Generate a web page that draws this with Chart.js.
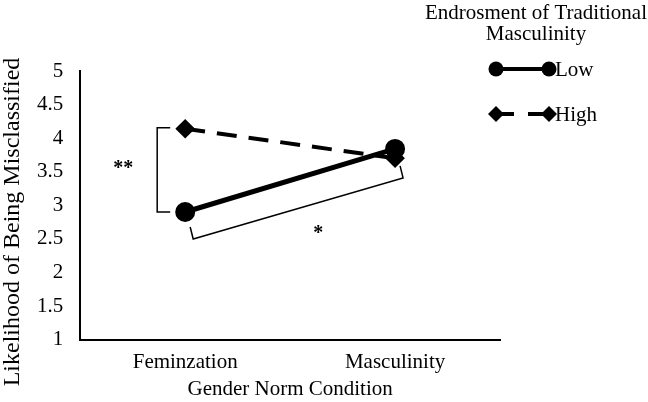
<!DOCTYPE html>
<html>
<head>
<meta charset="utf-8">
<script src="https://cdn.jsdelivr.net/npm/chart.js@4.4.1/dist/chart.umd.min.js"></script>
<style>
  html, body { margin: 0; padding: 0; background: #fff; }
  #wrap { width: 648px; height: 402px; }
</style>
</head>
<body>
<div id="wrap"><canvas id="chart" width="648" height="402"></canvas></div>
<script>
// data
const categories = ['Feminzation', 'Masculinity'];
const lowValues = [2.9, 3.84];
const highValues = [4.14, 3.7];
const seriesNames = ['Low', 'High'];
const yTicks = [1, 1.5, 2, 2.5, 3, 3.5, 4, 4.5, 5];

const FONT = "'Liberation Serif', 'Times New Roman', serif";

// brackets + significance stars
const bracketPlugin = {
    id: 'brackets',
    afterDatasetsDraw(chart) {
        const ctx = chart.ctx;
        const xs = chart.scales.x;
        const ys = chart.scales.y;
        const x0 = xs.getPixelForValue(0);
        const x1 = xs.getPixelForValue(1);
        ctx.save();
        ctx.strokeStyle = '#000';
        ctx.lineWidth = 1.5;

        // left bracket: high vs low within Feminzation
        const bx = x0 - 28;
        const yTop = ys.getPixelForValue(highValues[0]) - 1;
        const yBot = ys.getPixelForValue(lowValues[0]);
        ctx.beginPath();
        ctx.moveTo(bx + 13, yTop);
        ctx.lineTo(bx, yTop);
        ctx.lineTo(bx, yBot);
        ctx.lineTo(bx + 13, yBot);
        ctx.stroke();

        // slanted bracket under the low line
        const ax = x0 + 8, ay = ys.getPixelForValue(lowValues[0]) + 27;
        const cx = x1 + 8, cy = ys.getPixelForValue(lowValues[1]) + 29;
        ctx.beginPath();
        ctx.moveTo(ax - 3, ay - 12);
        ctx.lineTo(ax, ay);
        ctx.lineTo(cx, cy);
        ctx.lineTo(cx - 3, cy - 12);
        ctx.stroke();

        ctx.fillStyle = '#000';
        ctx.font = 'bold 20px ' + FONT;
        ctx.textAlign = 'center';
        ctx.textBaseline = 'middle';
        ctx.fillText('**', bx - 34, (yTop + yBot) / 2 - 1);
        ctx.fillText('*', (ax + cx) / 2 + 20, (ay + cy) / 2 + 25);
        ctx.restore();
    }
};

// y title and legend drawn by hand
const sidePlugin = {
    id: 'sideText',
    afterDraw(chart) {
        const ctx = chart.ctx;
        ctx.save();
        ctx.fillStyle = '#000';

        // y axis title
        ctx.font = '24px ' + FONT;
        ctx.textAlign = 'center';
        ctx.textBaseline = 'middle';
        ctx.translate(13, 222);
        ctx.rotate(-Math.PI / 2);
        ctx.fillText('Likelihood of Being Misclassified', 0, 0);
        ctx.setTransform(1, 0, 0, 1, 0, 0);

        // legend
        const left = 496, right = 549;
        ctx.font = '21px ' + FONT;
        ctx.fillText('Endrosment of Traditional', 536, 13);
        ctx.fillText('Masculinity', 536, 34);

        chart.data.datasets.forEach((ds, i) => {
            const y = 69 + i * 45;
            ctx.strokeStyle = '#000';
            ctx.lineWidth = 4;
            ctx.beginPath();
            if (ds.borderDash) {
                ctx.moveTo(left, y); ctx.lineTo(left + 18, y);
                ctx.moveTo(left + 32, y); ctx.lineTo(right, y);
            } else {
                ctx.moveTo(left, y); ctx.lineTo(right, y);
            }
            ctx.stroke();
            [left, right].forEach(px => {
                ctx.beginPath();
                if (ds.pointStyle === 'rectRot') {
                    const r = 8;
                    ctx.moveTo(px, y - r); ctx.lineTo(px + r, y);
                    ctx.lineTo(px, y + r); ctx.lineTo(px - r, y);
                    ctx.closePath();
                } else {
                    ctx.arc(px, y, 7.5, 0, Math.PI * 2);
                }
                ctx.fill();
            });
            ctx.textAlign = 'left';
            ctx.fillText(ds.label, right + 6, y + 1);
            ctx.textAlign = 'center';
        });
        ctx.restore();
    }
};

const ctx = document.getElementById('chart').getContext('2d');
const chart = new Chart(ctx, {
    type: 'line',
    data: {
        labels: categories,
        datasets: [{
            label: seriesNames[0],
            data: lowValues,
            borderColor: '#000',
            backgroundColor: '#000',
            borderWidth: 5,
            pointStyle: 'circle',
            pointRadius: 7.5,
            pointBackgroundColor: '#000',
            pointBorderColor: '#000',
            tension: 0
        }, {
            label: seriesNames[1],
            data: highValues,
            borderColor: '#000',
            backgroundColor: '#000',
            borderWidth: 4,
            borderDash: [20, 12],
            pointStyle: 'rectRot',
            pointRadius: 7,
            pointBackgroundColor: '#000',
            pointBorderColor: '#000',
            tension: 0
        }]
    },
    options: {
        responsive: false,
        devicePixelRatio: 1,
        animation: false,
        layout: {
            padding: { top: 71, right: 148, left: 20, bottom: 0 }
        },
        plugins: {
            legend: { display: false },
            tooltip: { enabled: false }
        },
        scales: {
            y: {
                min: 1,
                max: 5,
                afterBuildTicks(scale) {
                    scale.ticks = yTicks.map(v => ({ value: v }));
                },
                grid: { display: false, drawTicks: false },
                border: { color: '#000', width: 2 },
                ticks: {
                    color: '#000',
                    padding: 17,
                    font: { family: FONT, size: 21 },
                    callback: v => String(v)
                }
            },
            x: {
                offset: true,
                grid: { display: false, drawTicks: false },
                border: { color: '#000', width: 2 },
                ticks: {
                    color: '#000',
                    padding: 10,
                    font: { family: FONT, size: 21 }
                },
                title: {
                    display: true,
                    text: 'Gender Norm Condition',
                    color: '#000',
                    font: { family: FONT, size: 21 },
                    padding: { top: -8, bottom: 0 }
                }
            }
        }
    },
    plugins: [bracketPlugin, sidePlugin]
});
</script>
</body>
</html>
